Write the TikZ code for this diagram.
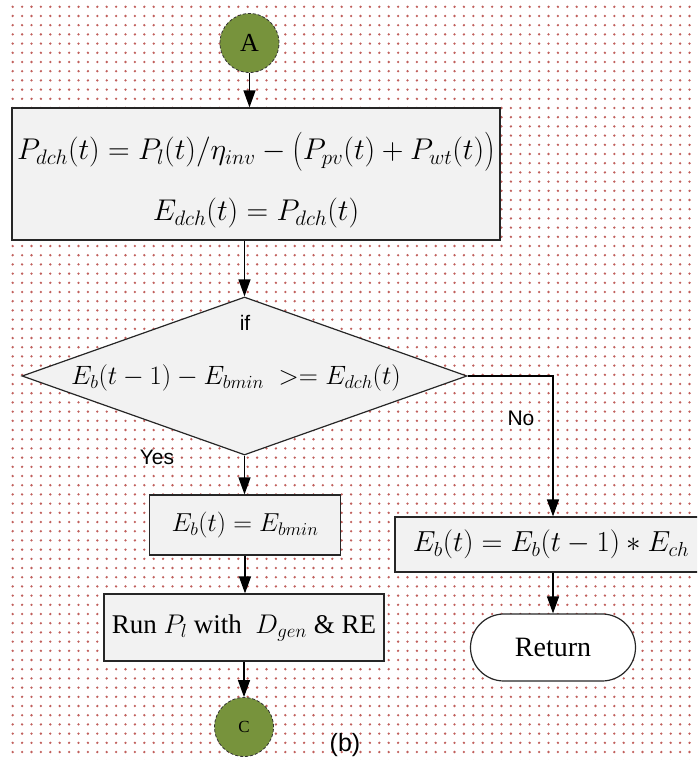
\RequirePackage{fix-cm}
\documentclass[tikz,border=0pt]{standalone}
\usepackage[no-math]{fontspec}
\setmainfont{Liberation Serif}
\newfontfamily\arialf{Liberation Sans}
\usetikzlibrary{arrows.meta,shapes.geometric,shapes.misc,calc}
\definecolor{dotc}{RGB}{192,95,92}
\definecolor{boxfill}{RGB}{242,242,242}
\definecolor{olivec}{RGB}{119,147,60}
\newcommand{\tallopen}{\mathopen{\vcenter{\hbox{\scalebox{1}[1.3]{$($}}}}}
\newcommand{\tallclose}{\mathclose{\vcenter{\hbox{\scalebox{1}[1.3]{$)$}}}}}
\begin{document}
\begin{tikzpicture}[x=1pt,y=-1pt,
  box/.style={draw=black!85,line width=1.2pt,fill=boxfill,inner sep=0pt},
  arr/.style={line width=1.2pt,draw=black,-{Triangle[length=17pt,width=12pt]}},
  conn/.style={circle,draw=black!80,densely dashed,line width=0.8pt,fill=olivec,minimum size=59pt,inner sep=0pt,font=\fontsize{26}{28}\selectfont},
  mtxt/.style={inner sep=0pt,font=\fontsize{26}{30}\selectfont},
  stxt/.style={inner sep=0pt,font=\arialf\fontsize{21}{24}\selectfont},
  rtxt/.style={inner sep=0pt,font=\fontsize{28}{30}\selectfont}]
\useasboundingbox (0,0) rectangle (697,760);
\clip (0,0) rectangle (697,760);
% dotted background
\foreach \i in {0,...,73}{
  \foreach \j in {0,...,82}{
    \fill[dotc] (12.7+9.4*\i,6.8+9.2*\j) circle (1.3);
  }
}
% connectors circles
\node[conn] (A) at (249.5,43) {A};
\node[conn,font=\fontsize{17}{18}\selectfont] (C) at (244,727) {C};
% box 1
\node[box,minimum width=488pt,minimum height=132pt] (b1) at (256,174) {};
\node[mtxt,font=\fontsize{30}{32}\selectfont] (b1a) at (256,152) {$P_{dch}(t) = P_l(t)/\eta_{inv} - \tallopen P_{pv}(t) + P_{wt}(t)\tallclose$};
\node[mtxt,font=\fontsize{30}{32}\selectfont] (b1b) at (256,213) {$E_{dch}(t) = P_{dch}(t)$};
% decision
\node[diamond,draw=black!85,line width=1.2pt,fill=boxfill,inner sep=0pt,minimum width=445pt,minimum height=158pt] (dec) at (244.5,376) {};
\node[stxt] (iftxt) at (245,323) {if};
\node[mtxt,font=\fontsize{26.5}{30}\selectfont] (dectxt) at (236,378) {$E_b(t-1) - E_{bmin}\; >= E_{dch}(t)$};
% yes branch
\node[box,minimum width=191pt,minimum height=60pt] (b2) at (245,525) {};
\node[mtxt] (b2t) at (245,525) {$E_b(t) = E_{bmin}$};
\node[box,minimum width=280pt,minimum height=67pt] (b3) at (244,627.5) {};
\node[rtxt,font=\fontsize{27}{30}\selectfont] (b3t) at (244,627.5) {Run $P_l$ with \ $D_{gen}$ \& RE};
% no branch
\node[box,minimum width=316pt,minimum height=55pt] (bR) at (553,544.5) {};
\node[mtxt,font=\fontsize{29}{30}\selectfont] (bRt) at (551,544.5) {$E_b(t) = E_b(t-1) * E_{ch}$};
\node[rounded rectangle,draw=black!85,line width=1.2pt,fill=white,minimum width=165pt,minimum height=67pt,inner sep=0pt,rtxt] (ret) at (553,647.5) {Return};
% labels
\node[stxt] (yes) at (157,457) {Yes};
\node[stxt] (no) at (521,418) {No};
\node[stxt,font=\arialf\fontsize{25}{28}\selectfont] (blab) at (345,745) {(b)};
% arrows
\draw[arr] (A.south) -- (A.south |- b1.north);
\draw[arr] (dec.north |- b1.south) -- (dec.north);
\draw[arr] (dec.south) -- (dec.south |- b2.north);
\draw[arr] (b2.south) -- (b2.south |- b3.north);
\draw[arr] (b3.south) -- (C.north);
\coordinate (turn) at (553,376);
\draw[arr] (dec.east) -- (turn) -- (bR.north);
\draw[arr] (bR.south) -- (ret.north);
\end{tikzpicture}
\end{document}
